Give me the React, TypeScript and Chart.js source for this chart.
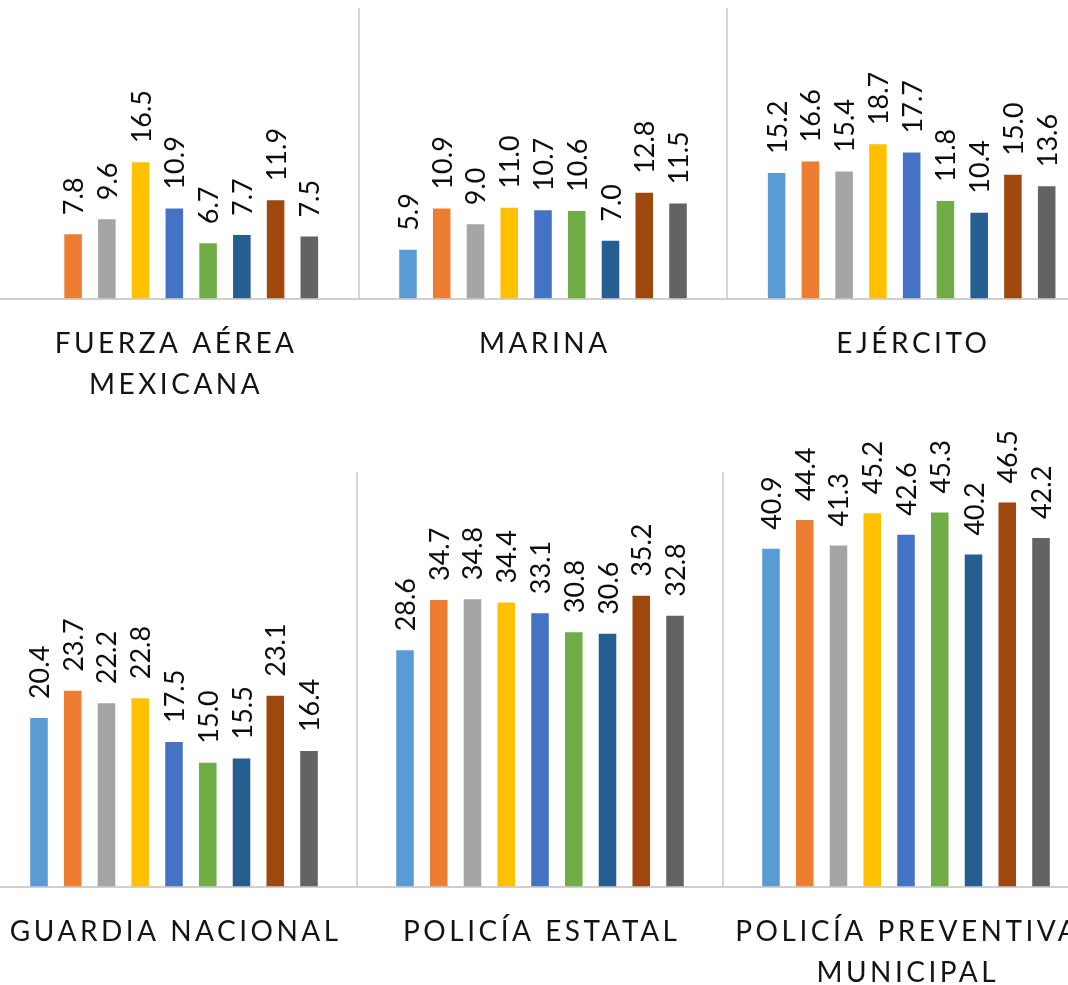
import React, { useEffect, useRef } from 'react';
import { Chart, registerables } from 'chart.js';

Chart.register(...registerables);

// ---- data ----
const seriesNames = ['Serie 1', 'Serie 2', 'Serie 3', 'Serie 4', 'Serie 5', 'Serie 6', 'Serie 7', 'Serie 8', 'Serie 9'];
const seriesColors = ['#5B9BD5', '#ED7D31', '#A5A5A5', '#FFC000', '#4472C4', '#70AD47', '#255E91', '#9E480E', '#636363'];

const topCategories = [['FUERZA AÉREA', 'MEXICANA'], ['MARINA'], ['EJÉRCITO']];
const bottomCategories = [['GUARDIA NACIONAL'], ['POLICÍA ESTATAL'], ['POLICÍA PREVENTIVA', 'MUNICIPAL']];

const fuerzaAerea = [null, 7.8, 9.6, 16.5, 10.9, 6.7, 7.7, 11.9, 7.5];
const marina = [5.9, 10.9, 9.0, 11.0, 10.7, 10.6, 7.0, 12.8, 11.5];
const ejercito = [15.2, 16.6, 15.4, 18.7, 17.7, 11.8, 10.4, 15.0, 13.6];
const guardiaNacional = [20.4, 23.7, 22.2, 22.8, 17.5, 15.0, 15.5, 23.1, 16.4];
const policiaEstatal = [28.6, 34.7, 34.8, 34.4, 33.1, 30.8, 30.6, 35.2, 32.8];
const policiaPreventiva = [40.9, 44.4, 41.3, 45.2, 42.6, 45.3, 40.2, 46.5, 42.2];

const topRowMax = 35.2;
const bottomRowMax = 50.2;

const LABEL_FONT = 'Lato';

type RowProps = {
  categories: string[][];
  groups: (number | null)[][];
  max: number;
  left: number;
  top: number;
  width: number;
  height: number;
  padTop: number;
  padBottom: number;
  catPct: number;
};

function BarRow(props: RowProps) {
  const ref = useRef<HTMLCanvasElement | null>(null);
  useEffect(() => {
    const canvas = ref.current;
    if (!canvas) return;
    const { categories, groups, max, padTop, padBottom, catPct } = props;

    const labelPlugin = {
      id: 'customLabels',
      afterDatasetsDraw(chart: any) {
        const ctx = chart.ctx as CanvasRenderingContext2D;
        ctx.save();
        ctx.font = `27px ${LABEL_FONT}`;
        ctx.fillStyle = '#0d0d0d';
        const m = ctx.measureText('0');
        const capH = m.actualBoundingBoxAscent;
        chart.data.datasets.forEach((ds: any, di: number) => {
          const meta = chart.getDatasetMeta(di);
          meta.data.forEach((el: any, i: number) => {
            const v = ds.data[i];
            if (v === null || v === undefined) return;
            ctx.save();
            ctx.translate(el.x + capH / 2, el.y - 19);
            ctx.rotate(-Math.PI / 2);
            ctx.textAlign = 'left';
            ctx.textBaseline = 'alphabetic';
            ctx.fillText(Number(v).toFixed(1), 0, 0);
            ctx.restore();
          });
        });
        ctx.restore();
      },
      afterDraw(chart: any) {
        const ctx = chart.ctx as CanvasRenderingContext2D;
        const xs = chart.scales.x;
        const bottom = chart.chartArea.bottom;
        ctx.save();
        ctx.font = `28px ${LABEL_FONT}`;
        (ctx as any).letterSpacing = '3.5px';
        ctx.fillStyle = '#141414';
        ctx.textAlign = 'center';
        ctx.textBaseline = 'alphabetic';
        const capH = ctx.measureText('E').actualBoundingBoxAscent;
        categories.forEach((lines, i) => {
          const x = xs.getPixelForValue(i) + 1.75;
          lines.forEach((line, li) => {
            ctx.fillText(line, x, bottom + 33 + capH + li * 41.5);
          });
        });
        ctx.restore();
      },
    };

    const chart = new Chart(canvas, {
      type: 'bar',
      data: {
        labels: categories.map((c) => c.join(' ')),
        datasets: seriesNames.map((name, i) => ({
          label: name,
          data: groups.map((g) => g[i]),
          backgroundColor: seriesColors[i],
          borderWidth: 0,
          categoryPercentage: catPct,
          barPercentage: 0.52,
        })),
      },
      options: {
        responsive: false,
        maintainAspectRatio: false,
        animation: false,
        layout: { padding: { top: padTop, bottom: padBottom, left: 0, right: 0 } },
        plugins: { legend: { display: false }, tooltip: { enabled: false } },
        scales: {
          x: {
            display: true,
            offset: true,
            grid: { display: true, offset: true, color: '#d6d6d6', lineWidth: 2, drawTicks: false },
            border: { display: true, color: '#cfcfcf', width: 2 },
            ticks: { display: false },
          },
          y: { display: false, min: 0, max: max },
        },
      },
      plugins: [labelPlugin],
    });
    if ((document as any).fonts) {
      Promise.all([
        (document as any).fonts.load(`27px ${LABEL_FONT}`),
        (document as any).fonts.load(`28px ${LABEL_FONT}`),
      ]).then(() => chart.update()).catch(() => {});
    }
    return () => chart.destroy();
  }, []);
  return (
    <canvas
      ref={ref}
      width={props.width}
      height={props.height}
      style={{ position: 'absolute', left: props.left, top: props.top, width: props.width, height: props.height }}
    />
  );
}

export default function App() {
  return (
    <div style={{ position: 'absolute', left: 0, top: 0, width: 1068, height: 985, overflow: 'hidden', background: '#ffffff' }}>
      <BarRow
        categories={topCategories}
        groups={[fuerzaAerea, marina, ejercito]}
        max={topRowMax}
        left={-10}
        top={0}
        width={1106}
        height={400}
        padTop={8}
        padBottom={101.5}
        catPct={0.824}
      />
      <BarRow
        categories={bottomCategories}
        groups={[guardiaNacional, policiaEstatal, policiaPreventiva]}
        max={bottomRowMax}
        left={-9}
        top={400}
        width={1098}
        height={585}
        padTop={72}
        padBottom={98.5}
        catPct={0.83}
      />
    </div>
  );
}
